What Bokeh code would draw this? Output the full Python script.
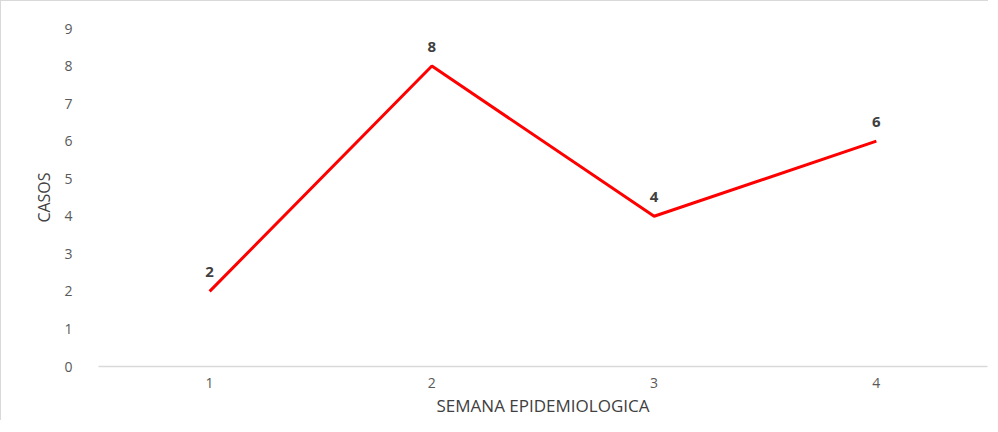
from bokeh.plotting import figure
from bokeh.models import Range1d, ColumnDataSource, FactorRange
from bokeh.core.properties import value
from bokeh.embed import file_html
from bokeh.resources import INLINE

semanas = ["1", "2", "3", "4"]
casos = [2, 8, 4, 6]
y_ticks = [0, 1, 2, 3, 4, 5, 6, 7, 8, 9]

src = ColumnDataSource(dict(x=semanas, y=casos, t=[str(v) for v in casos]))

p = figure(width=988, height=420, x_range=FactorRange(*semanas, range_padding=0),
           y_range=Range1d(0, 9), output_backend="svg", toolbar_location=None,
           min_border_left=97, min_border_right=2, min_border_top=27, min_border_bottom=55,
           styles={"border-left": "1px solid #d9d9d9", "border-top": "1px solid #d9d9d9"})
p.outline_line_color = None
p.grid.visible = False
p.background_fill_color = "white"
p.border_fill_color = "white"

p.line("x", "y", source=src, line_color="#ff0000", line_width=3)
p.text("x", "y", text="t", source=src, text_align="center", text_baseline="bottom",
       y_offset=-14, text_font=value("Open Sans"), text_font_style="bold",
       text_font_size="15px", text_color="#404040")

xa = p.xaxis[0]
xa.axis_line_color = "#d9d9d9"
xa.axis_line_width = 1.5
xa.major_tick_line_color = None
xa.minor_tick_line_color = None
xa.major_label_standoff = 5
xa.major_label_text_font = "Open Sans"
xa.major_label_text_font_size = "14px"
xa.major_label_text_color = "#595959"
xa.axis_label = "SEMANA EPIDEMIOLOGICA"
xa.axis_label_standoff = 3
xa.axis_label_text_font = "Open Sans"
xa.axis_label_text_font_size = "17px"
xa.axis_label_text_font_style = "normal"
xa.axis_label_text_color = "#404040"

ya = p.yaxis[0]
ya.ticker = y_ticks
ya.axis_line_color = None
ya.major_tick_line_color = None
ya.minor_tick_line_color = None
ya.major_label_standoff = 20
ya.major_label_text_font = "Open Sans"
ya.major_label_text_font_size = "14px"
ya.major_label_text_color = "#595959"
ya.axis_label = "CASOS"
ya.axis_label_standoff = 6
ya.axis_label_text_font = "Open Sans"
ya.axis_label_text_font_size = "16px"
ya.axis_label_text_font_style = "normal"
ya.axis_label_text_color = "#404040"

open("out.html", "w").write(file_html(p, INLINE))
